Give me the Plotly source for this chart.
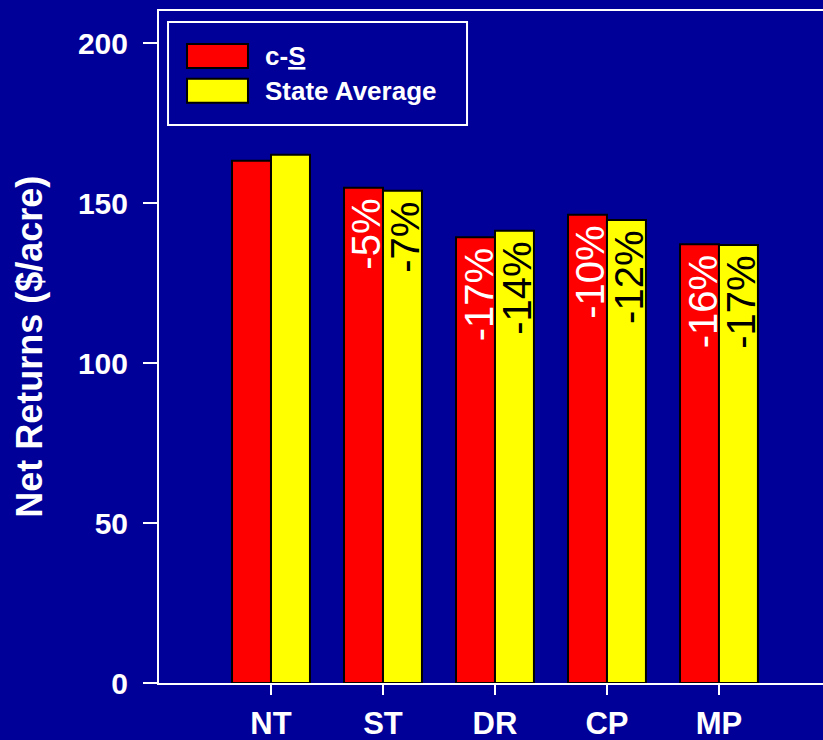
import plotly.graph_objects as go

# Net returns by tillage system
categories = ["NT", "ST", "DR", "CP", "MP"]
cs_values = [163.2, 154.8, 139.3, 146.3, 137.1]
state_avg_values = [165.1, 153.8, 141.3, 144.7, 136.9]

# Change relative to no-till, printed inside the bars
cs_change = ["", "-5%", "-17%", "-10%", "-16%"]
state_avg_change = ["", "-7%", "-14%", "-12%", "-17%"]

y_ticks = [0, 50, 100, 150, 200]

BG = "#000099"
FONT = "Arial, Liberation Sans, sans-serif"
BARGAP = 0.304

fig = go.Figure()
fig.add_trace(go.Bar(
    x=categories, y=cs_values, name="c-S",
    marker=dict(color="#FF0000", line=dict(color="black", width=2)),
    showlegend=False,
))
fig.add_trace(go.Bar(
    x=categories, y=state_avg_values, name="State Average",
    marker=dict(color="#FFFF00", line=dict(color="black", width=2)),
    showlegend=False,
))

# Rotated percentage labels, hung from the top of each bar
half = (1 - BARGAP) / 4
annotations = []
for i, cat in enumerate(categories):
    for txt, val, dx, col in ((cs_change[i], cs_values[i], -half, "white"),
                              (state_avg_change[i], state_avg_values[i], half, "black")):
        if not txt:
            continue
        annotations.append(dict(
            x=i + dx, y=val, xref="x", yref="y", text=txt, showarrow=False,
            textangle=-90, xanchor="center", yanchor="top", yshift=-9, xshift=3,
            font=dict(family=FONT, size=40, color=col),
        ))

# Y-axis title
annotations.append(dict(
    x=-0.196, y=0.5, xref="paper", yref="paper", text="<b>Net Returns ($/acre)</b>",
    showarrow=False, textangle=-90, xanchor="center", yanchor="middle",
    font=dict(family=FONT, size=36, color="white"),
))

# Legend drawn by hand: framed box, wide swatches, bold labels
shapes = [
    dict(type="rect", xref="paper", yref="paper", x0=0.0136, x1=0.4639, y0=0.8304, y1=0.9836,
         line=dict(color="white", width=2), fillcolor=BG),
    dict(type="rect", xref="paper", yref="paper", x0=0.0422, x1=0.134, y0=0.9152, y1=0.9509,
         line=dict(color="black", width=2), fillcolor="#FF0000"),
    dict(type="rect", xref="paper", yref="paper", x0=0.0422, x1=0.134, y0=0.8636, y1=0.8993,
         line=dict(color="black", width=2), fillcolor="#FFFF00"),
]
annotations.append(dict(
    x=0.1566, y=0.9325, xref="paper", yref="paper", text="<b>c-<u>S</u></b>",
    showarrow=False, xanchor="left", yanchor="middle",
    font=dict(family=FONT, size=26, color="white"),
))
annotations.append(dict(
    x=0.1566, y=0.881, xref="paper", yref="paper", text="<b>State Average</b>",
    showarrow=False, xanchor="left", yanchor="middle",
    font=dict(family=FONT, size=26, color="white"),
))

fig.update_layout(
    width=823, height=740,
    margin=dict(l=159, r=0, t=11, b=57, autoexpand=False),
    paper_bgcolor=BG, plot_bgcolor=BG,
    barmode="group", bargap=BARGAP, bargroupgap=0,
    shapes=shapes, annotations=annotations,
    font=dict(family=FONT, color="white"),
)
fig.update_xaxes(
    range=[-1, 4.929], showgrid=False, zeroline=False, automargin=False,
    showline=True, mirror=True, linecolor="white", linewidth=2,
    ticks="outside", ticklen=10, tickwidth=1.5, tickcolor="white",
    tickfont=dict(family=FONT, size=31, color="white", weight="bold"),
    ticklabelstandoff=2,
)
fig.update_yaxes(
    range=[0, 210], tickvals=y_ticks, showgrid=False, zeroline=False, automargin=False,
    showline=True, linecolor="white", linewidth=2,
    ticks="outside", ticklen=14, tickwidth=1.5, tickcolor="white",
    tickfont=dict(family=FONT, size=30, color="white", weight="bold"),
    ticklabelstandoff=9,
)

fig.write_html("out.html")
